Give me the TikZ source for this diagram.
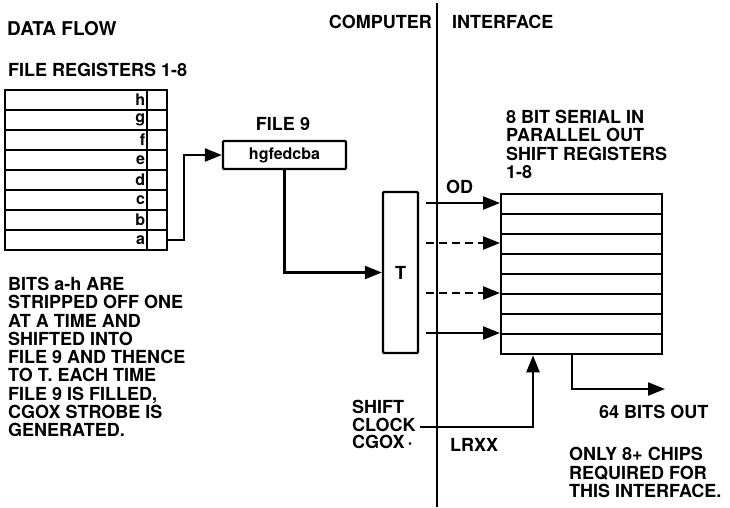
\documentclass[tikz,border=0pt]{standalone}
\usepackage{fontspec}
\setmainfont{TeX Gyre Heros}
\usetikzlibrary{arrows.meta, positioning, calc}

\begin{document}
\begin{tikzpicture}[x=1pt, y=-1pt,
    every node/.style={font=\fontsize{18}{18.25}\selectfont\bfseries, inner sep=0pt},
    lbl/.style={anchor=north west, align=left},
    small/.style={font=\fontsize{16}{18}\selectfont\bfseries},
    cell/.style={draw, line width=2.3pt, minimum height=20pt, anchor=north west},
    box/.style={draw, line width=2.3pt, rounded corners=1pt},
    arr/.style={-{Triangle[length=17pt, width=13pt]}, line width=2.3pt},
    dsh/.style={dash pattern=on 8pt off 5pt},
    wire/.style={line width=2.3pt}
]
    \useasboundingbox (0,0) rectangle (730,507);

    % headings
    \node[lbl, font=\fontsize{19}{20}\selectfont\bfseries] (flow) at (7,21) {DATA FLOW};
    \node[lbl] (fregs) at (8,63) {FILE REGISTERS 1-8};
    \node[anchor=north east] (comp) at (432,15) {COMPUTER};
    \node[lbl] (intf) at (452,15) {INTERFACE};

    % divider between computer and interface
    \coordinate (top) at (437,3);
    \coordinate (bot) at (437,507);
    \draw[wire] (top) -- (bot);

    % file registers 1-8
    \foreach \l [count=\i from 0] in {h,g,f,e,d,c,b,a} {
        \node[cell, minimum width=142pt] (fr\i) at (4,{89+20*\i}) {};
        \node[cell, minimum width=20pt] (fc\i) at (146,{89+20*\i}) {};
        \node[small, anchor=east] at ($(fr\i.east)+(-3,0)$) {\l};
    }

    % file 9
    \node[box, small, minimum width=123pt, minimum height=28pt] (f9) at (284.5,155) {hgfedcba};
    \node[anchor=north] (f9lbl) at (283,117) {FILE 9};
    \draw[arr] (fc7.east) -- ++(16,0) |- (f9.west);

    % T
    \node[box, minimum width=35pt, minimum height=161pt] (t) at (400.5,272.5) {T};
    \draw[arr] (f9.south) |- (t.west);

    % shift registers
    \foreach \i in {0,...,7}
        \node[cell, minimum width=161pt] (sr\i) at (500,{193+20*\i}) {};
    \node[lbl] (srlbl) at (506,110)
        {8 BIT SERIAL IN\\PARALLEL OUT\\SHIFT REGISTERS\\1-8};
    \node[lbl] (od) at (446,180) {OD};
    \foreach \y/\s [count=\i] in {203/solid, 243/dsh, 293/dsh, 333/solid} {
        \coordinate (od\i) at (426,\y);
        \draw[arr, \s] (od\i) -- (od\i -| sr0.west);
    }

    % output
    \coordinate (out) at (665,389);
    \draw[arr] ($(sr7.south west)+(72,0)$) |- (out);
    \node[lbl] (bits) at (599,405) {64 BITS OUT};

    % shift clock
    \coordinate (clk) at (420,427);
    \draw[arr] (clk) -| ($(sr7.south west)+(33,0)$);
    \node[lbl, font=\fontsize{18}{17.5}\selectfont\bfseries] (sclk) at (352,400)
        {SHIFT\\CLOCK\\CGOX\,·};
    \node[lbl] (lrxx) at (450,438) {LRXX};

    % notes
    \node[lbl] (note) at (8,277)
        {BITS a-h ARE\\STRIPPED OFF ONE\\AT A TIME AND\\SHIFTED INTO\\FILE 9 AND THENCE\\TO T. EACH TIME\\FILE 9 IS FILLED,\\CGOX STROBE IS\\GENERATED.};
    \node[lbl, font=\fontsize{18}{18.5}\selectfont\bfseries] (chips) at (569,447)
        {ONLY 8+ CHIPS\\REQUIRED FOR\\THIS INTERFACE.};
\end{tikzpicture}
\end{document}
